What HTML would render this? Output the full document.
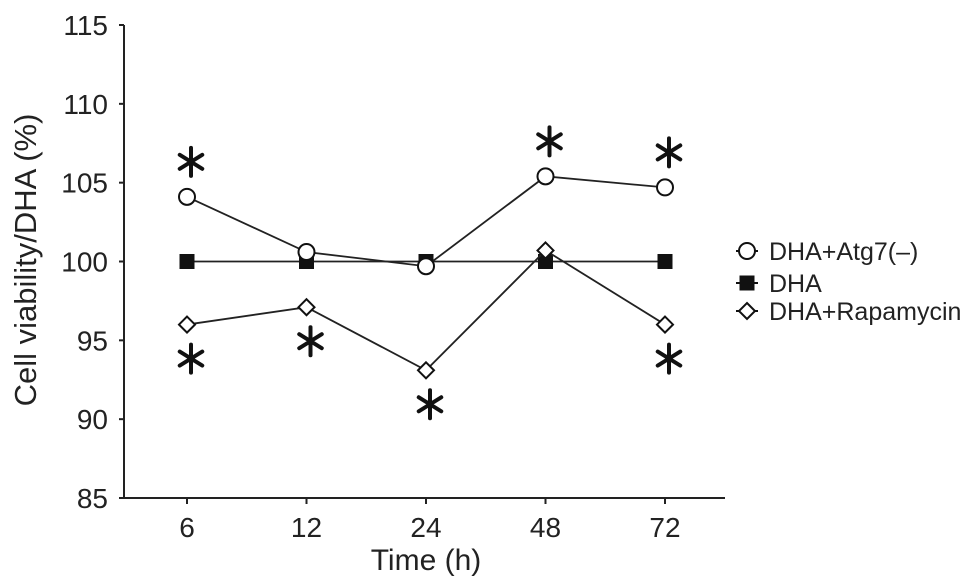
<!DOCTYPE html>
<html><head><meta charset="utf-8"><style>
body{margin:0;background:#fff}
svg{display:block;font-family:"Liberation Sans",Arial,sans-serif}
</style></head><body>
<svg id="chart" width="969" height="587" viewBox="0 0 969 587"></svg>
<script>
const categories=["6","12","24","48","72"];
const atg7Values=[104.1,100.6,99.7,105.4,104.7];
const dhaValues=[100,100,100,100,100];
const rapaValues=[96.0,97.1,93.1,100.7,96.0];
const yTicks=[85,90,95,100,105,110,115];
const atg7Stars=[true,false,false,true,true];
const rapaStars=[true,true,true,false,true];

const NS="http://www.w3.org/2000/svg";
const svg=document.getElementById('chart');
const x0=124,x1=725,yTop=25,yBot=498,yMin=85,yMax=115;
const xPos=i=>187+i*119.5;
const y=v=>yBot-(v-yMin)/(yMax-yMin)*(yBot-yTop);
function el(tag,attrs,parent){const e=document.createElementNS(NS,tag);for(const k in attrs)e.setAttribute(k,attrs[k]);(parent||svg).appendChild(e);return e;}

const axes=el('g',{});


el('line',{x1:x0,y1:yTop,x2:x0,y2:yBot+1,stroke:'#222','stroke-width':2},axes);
el('line',{x1:x0-1,y1:yBot,x2:x1,y2:yBot,stroke:'#222','stroke-width':2},axes);
yTicks.forEach(t=>{
  el('line',{x1:x0-5,y1:y(t),x2:x0,y2:y(t),stroke:'#222','stroke-width':2},axes);
  const tx=el('text',{x:x0-16,y:y(t)+10,'text-anchor':'end','font-size':28,fill:'#222'},axes);
  tx.textContent=t;
  
  
});
categories.forEach((c,i)=>{
  el('line',{x1:xPos(i),y1:yBot,x2:xPos(i),y2:yBot+6,stroke:'#222','stroke-width':2},axes);
  const tx=el('text',{x:xPos(i),y:537,'text-anchor':'middle','font-size':28,fill:'#222'},axes);
  tx.textContent=c;
  
  
});
const xt=el('text',{x:426,y:570,'text-anchor':'middle','font-size':30,fill:'#222'});
xt.textContent='Time (h)';


const yt=el('text',{x:0,y:0,'text-anchor':'middle','font-size':31,fill:'#222',transform:'translate(36,260) rotate(-90)'});
yt.textContent='Cell viability/DHA (%)';



function marker(g,type,cx,cy){
  if(type==='circle')el('circle',{cx,cy,r:8,fill:'#fff',stroke:'#111','stroke-width':2},g);
  else if(type==='square')el('rect',{x:cx-7.5,y:cy-7.5,width:15,height:15,fill:'#111'},g);
  else el('polygon',{points:`${cx},${cy-8} ${cx+8},${cy} ${cx},${cy+8} ${cx-8},${cy}`,fill:'#fff',stroke:'#111','stroke-width':2},g);
}
function series(vals,type,name){
  const g=el('g',{});
  
  
  el('polyline',{points:vals.map((v,i)=>xPos(i)+','+y(v)).join(' '),fill:'none',stroke:'#222','stroke-width':1.8},g);
  vals.forEach((v,i)=>marker(g,type,xPos(i),y(v)));
}
series(dhaValues,'square','series-dha');
series(atg7Values,'circle','series-dha-atg7');
series(rapaValues,'diamond','series-dha-rapamycin');

function star(cx,cy){
  const g=el('g',{stroke:'#111','stroke-width':4,'stroke-linecap':'round'});
  
  
  [90,30,150].forEach(a=>{
    const r=a*Math.PI/180,dx=Math.cos(r)*13,dy=Math.sin(r)*14;
    el('line',{x1:cx-dx,y1:cy-dy,x2:cx+dx,y2:cy+dy},g);
  });
}
atg7Stars.forEach((b,i)=>{if(b)star(xPos(i)+4,y(atg7Values[i])-35);});
rapaStars.forEach((b,i)=>{if(b)star(xPos(i)+4,y(rapaValues[i])+34);});

const leg=el('g',{});


[['circle','DHA+Atg7(–)',251],['square','DHA',283],['diamond','DHA+Rapamycin',311]].forEach(([t,l,ly])=>{
  const g=el('g',{},leg);
  
  
  el('line',{x1:736,y1:ly,x2:758,y2:ly,stroke:'#111','stroke-width':2},g);
  marker(g,t,747,ly);
  const tx=el('text',{x:769,y:ly+9,'font-size':25,fill:'#222'},g);
  tx.textContent=l;
});
</script>
</body></html>
